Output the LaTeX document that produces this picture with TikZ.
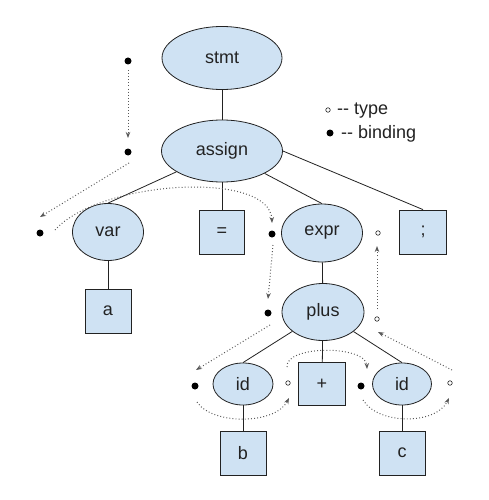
\documentclass[tikz,border=0pt]{standalone}
\usepackage{fontspec}
\setmainfont{Liberation Sans}
\usetikzlibrary{shapes.geometric,arrows.meta}
\definecolor{nodefill}{HTML}{CFE2F3}
\definecolor{ink}{HTML}{222222}
\begin{document}
\begin{tikzpicture}[x=1pt,y=-1pt,
  every node/.style={font=\fontsize{18}{22}\selectfont, text=ink},
  ell/.style={ellipse, draw=ink, fill=nodefill, line width=0.8pt, inner sep=0pt},
  box/.style={rectangle, draw=ink, fill=nodefill, line width=0.8pt, minimum width=46pt, minimum height=44pt, inner sep=0pt},
  edge/.style={draw=ink, line width=0.8pt},
  bind/.style={circle, fill=black, inner sep=0pt, minimum size=7pt},
  typ/.style={circle, draw=ink, fill=white, inner sep=0pt, minimum size=4.5pt, line width=0.6pt},
  dep/.style={draw=ink!75, line width=1pt, dash pattern=on 0.9pt off 2.2pt,
              -{Stealth[length=6pt,width=4.5pt,fill=ink]}},
  legend/.style={anchor=west, inner sep=0pt}]
\fill[white] (0,0) rectangle (489,500);
\useasboundingbox (0,0) rectangle (489,500);

% tree nodes
\node[ell, minimum width=120pt, minimum height=63pt] (stmt) at (222,58) {stmt};
\node[ell, minimum width=121pt, minimum height=62pt] (assign) at (222,151) {assign};
\node[ell, minimum width=71pt, minimum height=57pt] (var) at (108,232) {var};
\node[box, minimum width=45pt] (eq) at (222,232) {=};
\node[ell, minimum width=81pt, minimum height=58pt] (expr) at (322,233) {expr};
\node[box, minimum width=47pt] (semi) at (423,232) {;};
\node[box] (a) at (108,311) {a};
\node[ell, minimum width=82pt, minimum height=57pt] (plus) at (323,312) {plus};
\node[ell, minimum width=60pt, minimum height=42pt] (id1) at (243,384) {id};
\node[box, minimum width=47pt, minimum height=43pt] (pl) at (322,384) {+};
\node[ell, minimum width=59pt, minimum height=42pt] (id2) at (402,384) {id};
\node[box] (b) at (243,453) {b};
\node[box] (c) at (402,453) {c};

% tree edges
\draw[edge] (stmt) -- (assign);
\draw[edge] (assign) -- (var.north);
\draw[edge] (assign) -- (eq);
\draw[edge] (assign) -- (expr.north);
\draw[edge] (assign.east) -- (semi.north);
\draw[edge] (var) -- (a);
\draw[edge] (expr) -- (plus);
\draw[edge] (plus) -- (id1.north);
\draw[edge] (plus) -- (pl);
\draw[edge] (plus) -- (id2.north);
\draw[edge] (id1) -- (b);
\draw[edge] (id2) -- (c);

% attribute markers
\node[bind] (d0) at (128,61) {};
\node[bind] (d1) at (128,152) {};
\node[bind] (d2) at (40,233) {};
\node[bind] (d3) at (272,234) {};
\node[typ] (t3) at (378,233) {};
\node[bind] (d4) at (268,313) {};
\node[typ] (t4) at (377,319) {};
\node[bind] (d5) at (195,386) {};
\node[typ] (t5) at (288,383) {};
\node[bind] (d6) at (361,386) {};
\node[typ] (t6) at (450,383) {};

% legend
\node[typ] (lt) at (328,110) {};
\node[legend] (ltx) at (337,111) {-\kern0pt- type};
\node[bind] (lb) at (330,133) {};
\node[legend] (lbx) at (341,134) {-\kern0pt- binding};

% dependency flow coordinates
\coordinate (a0s) at (128,70);   \coordinate (a0e) at (128,138);
\coordinate (a1s) at (129,163);  \coordinate (a1e) at (40,217);
\coordinate (a2s) at (55,230);   \coordinate (a2e) at (272,223);
\coordinate (a3s) at (273,245);  \coordinate (a3e) at (268,299);
\coordinate (a4s) at (377,309);  \coordinate (a4e) at (377,246);
\coordinate (a5s) at (270,325);  \coordinate (a5e) at (196,370);
\coordinate (a6s) at (197,402);  \coordinate (a6e) at (289,398);
\coordinate (a7s) at (287,367);  \coordinate (a7e) at (367,369);
\coordinate (a8s) at (363,400);  \coordinate (a8e) at (449,398);
\coordinate (a9s) at (452,370);  \coordinate (a9e) at (378,332);

% dependency flow arrows
\draw[dep] (a0s) -- (a0e);
\draw[dep] (a1s) -- (a1e);
\draw[dep] (a2s) .. controls (100,180) and (270,170) .. (a2e);
\draw[dep] (a3s) -- (a3e);
\draw[dep] (a4s) -- (a4e);
\draw[dep] (a5s) -- (a5e);
\draw[dep] (a6s) .. controls (212,425) and (275,425) .. (a6e);
\draw[dep] (a7s) .. controls (285,345) and (366,345) .. (a7e);
\draw[dep] (a8s) .. controls (378,425) and (436,425) .. (a8e);
\draw[dep] (a9s) -- (a9e);
\end{tikzpicture}
\end{document}
